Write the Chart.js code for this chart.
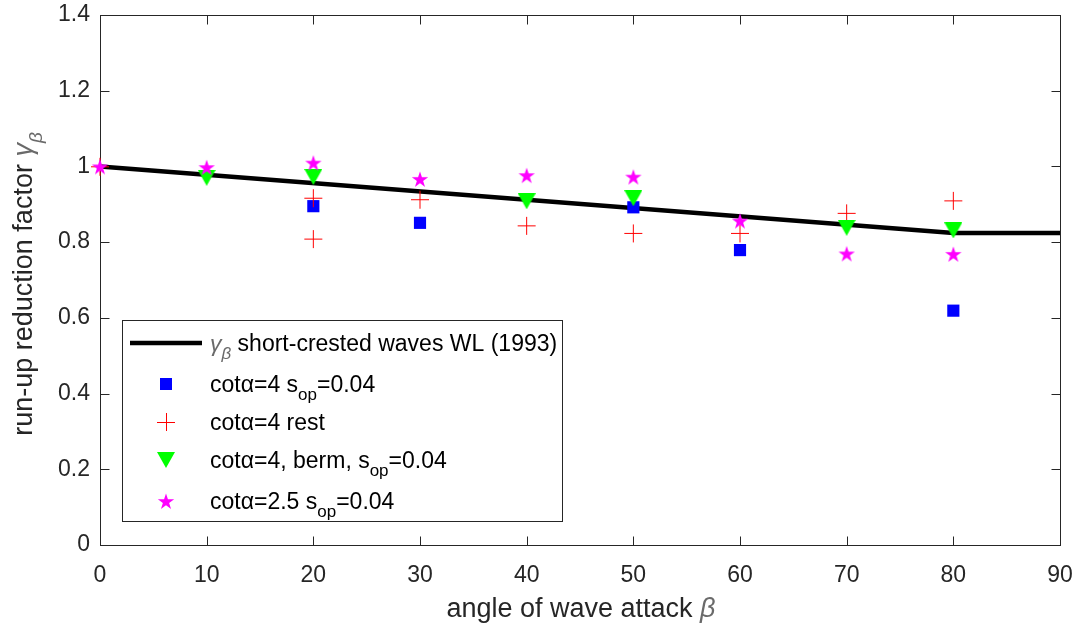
<!DOCTYPE html>
<html>
<head>
<meta charset="utf-8">
<script src="https://cdn.jsdelivr.net/npm/chart.js"></script>
<title>run-up reduction factor</title>
<style>
  body { margin: 0; background: #fff; }
</style>
</head>
<body>
<canvas id="myChart" width="1088" height="626"></canvas>
<script>
const lineX = [0, 80, 90];
const lineY = [1.0, 0.824, 0.824];

const squareX = [20, 30, 50, 60, 80];
const squareY = [0.895, 0.851, 0.892, 0.779, 0.619];

const plusX = [0, 20, 20, 30, 40, 50, 60, 70, 80];
const plusY = [0.999, 0.916, 0.808, 0.912, 0.843, 0.823, 0.823, 0.876, 0.909];

const triX = [10, 20, 40, 50, 70, 80];
const triY = [0.970, 0.972, 0.908, 0.916, 0.838, 0.831];

const starX = [0, 10, 20, 30, 40, 50, 60, 70, 80];
const starY = [1.0, 0.998, 1.010, 0.967, 0.977, 0.973, 0.857, 0.770, 0.769];

const xTicks = [0, 10, 20, 30, 40, 50, 60, 70, 80, 90];
const yTicks = [0, 0.2, 0.4, 0.6, 0.8, 1, 1.2, 1.4];

const fam = '"Liberation Sans", Arial, Helvetica, sans-serif';
const axisCol = '#262626';
const greekCol = '#6a6a6a';

function pts(xs, ys) {
  return xs.map(function(x, i) { return {x: x, y: ys[i]}; });
}

function makeStar(color, R) {
  const c = document.createElement('canvas');
  const s = Math.ceil(R * 2) + 2;
  c.width = s; c.height = s;
  const g = c.getContext('2d');
  const cx = s / 2, cy = s / 2 + 1, r = R * 0.382;
  g.beginPath();
  for (let i = 0; i < 10; i++) {
    const a = -Math.PI / 2 + i * Math.PI / 5;
    const rr = i % 2 ? r : R;
    g.lineTo(cx + rr * Math.cos(a), cy + rr * Math.sin(a));
  }
  g.closePath();
  g.fillStyle = color;
  g.fill();
  return c;
}

function makeTri(color, w, h) {
  const c = document.createElement('canvas');
  c.width = w; c.height = h;
  const g = c.getContext('2d');
  g.beginPath();
  g.moveTo(0, 0); g.lineTo(w, 0); g.lineTo(w / 2, h);
  g.closePath();
  g.fillStyle = color;
  g.fill();
  return c;
}

const starImg = makeStar('#ff00ff', 8.6);
const triImg = makeTri('#00ff00', 18, 16);

// text with subscripts / italic greek
function richWidth(ctx, parts, size, subSize) {
  let w = 0;
  parts.forEach(function(p) {
    ctx.font = (p.it ? 'italic ' : '') + (p.sub ? subSize : size) + 'px ' + fam;
    w += ctx.measureText(p.t).width;
  });
  return w;
}
function drawRich(ctx, parts, x, y, size, subSize, col) {
  parts.forEach(function(p) {
    ctx.font = (p.it ? 'italic ' : '') + (p.sub ? subSize : size) + 'px ' + fam;
    ctx.fillStyle = p.col || col;
    ctx.fillText(p.t, x, y + (p.sub ? Math.round(size * 0.36) : 0));
    x += ctx.measureText(p.t).width;
  });
}

const frame = {
  id: 'frame',
  beforeDatasetsDraw(chart) {
    const ctx = chart.ctx, a = chart.chartArea;
    const xs = chart.scales.x, ys = chart.scales.y;
    const L = Math.round(a.left) + 0.5, R = Math.round(a.right) + 0.5;
    const T = Math.round(a.top) + 0.5, B = Math.round(a.bottom) + 0.5;
    ctx.save();
    ctx.strokeStyle = axisCol;
    ctx.lineWidth = 1;
    ctx.strokeRect(L, T, R - L, B - T);
    ctx.beginPath();
    xTicks.forEach(function(v) {
      const px = Math.round(xs.getPixelForValue(v)) + 0.5;
      ctx.moveTo(px, B); ctx.lineTo(px, B - 9);
      ctx.moveTo(px, T); ctx.lineTo(px, T + 9);
    });
    yTicks.forEach(function(v) {
      const py = Math.round(ys.getPixelForValue(v)) + 0.5;
      ctx.moveTo(L, py); ctx.lineTo(L + 9, py);
      ctx.moveTo(R, py); ctx.lineTo(R - 9, py);
    });
    ctx.stroke();
    ctx.restore();
  }
};

const legendRows = [
  [{t: 'γ', it: true, col: greekCol}, {t: 'β', it: true, sub: true, col: greekCol}, {t: ' short-crested waves WL (1993)'}],
  [{t: 'cotα=4 s'}, {t: 'op', sub: true}, {t: '=0.04'}],
  [{t: 'cotα=4 rest'}],
  [{t: 'cotα=4, berm, s'}, {t: 'op', sub: true}, {t: '=0.04'}],
  [{t: 'cotα=2.5 s'}, {t: 'op', sub: true}, {t: '=0.04'}]
];
const rowY = [343, 384, 422, 460, 501];

const boxLegend = {
  id: 'boxLegend',
  afterDatasetsDraw(chart) {
    const ctx = chart.ctx;
    ctx.save();
    ctx.fillStyle = '#fff';
    ctx.fillRect(122, 320, 440, 201);
    ctx.strokeStyle = axisCol;
    ctx.lineWidth = 1;
    ctx.strokeRect(122.5, 320.5, 440, 201);

    // markers
    ctx.strokeStyle = '#000';
    ctx.lineWidth = 4.5;
    ctx.beginPath(); ctx.moveTo(130, rowY[0]); ctx.lineTo(202, rowY[0]); ctx.stroke();
    const mx = 166;
    ctx.fillStyle = '#0000ff';
    ctx.fillRect(mx - 6, rowY[1] - 6, 12, 12);
    ctx.strokeStyle = '#ff0000';
    ctx.lineWidth = 1;
    ctx.beginPath();
    ctx.moveTo(mx - 9, rowY[2] + 0.5); ctx.lineTo(mx + 9, rowY[2] + 0.5);
    ctx.moveTo(mx + 0.5, rowY[2] - 9); ctx.lineTo(mx + 0.5, rowY[2] + 9);
    ctx.stroke();
    ctx.drawImage(triImg, mx - 9, rowY[3] - 8);
    ctx.drawImage(starImg, mx - starImg.width / 2, rowY[4] - starImg.height / 2);

    ctx.textBaseline = 'alphabetic';
    ctx.textAlign = 'left';
    legendRows.forEach(function(parts, i) {
      drawRich(ctx, parts, 210, rowY[i] + 8, 23, 17, '#000');
    });
    ctx.restore();
  }
};

const titles = {
  id: 'titles',
  afterDraw(chart) {
    const ctx = chart.ctx;
    ctx.save();
    ctx.textBaseline = 'alphabetic';
    ctx.textAlign = 'left';
    const xt = [{t: 'angle of wave attack '}, {t: 'β', it: true, col: greekCol}];
    const wx = richWidth(ctx, xt, 27, 19);
    drawRich(ctx, xt, 581 - wx / 2, 617, 27, 19, axisCol);

    const yt = [{t: 'run-up reduction factor '}, {t: 'γ', it: true, col: greekCol}, {t: 'β', it: true, sub: true, col: greekCol}];
    const wy = richWidth(ctx, yt, 27, 19);
    ctx.translate(32, 284);
    ctx.rotate(-Math.PI / 2);
    drawRich(ctx, yt, -wy / 2, 0, 27, 19, axisCol);
    ctx.restore();
  }
};

new Chart(document.getElementById('myChart'), {
  type: 'scatter',
  data: {
    datasets: [
      {
        label: 'short-crested waves WL (1993)',
        data: pts(lineX, lineY),
        showLine: true,
        borderColor: '#000',
        borderWidth: 4.5,
        pointRadius: 0,
        order: 5
      },
      {
        label: 'cota=4 sop=0.04',
        data: pts(squareX, squareY),
        pointStyle: 'rect',
        pointRadius: 8.6,
        backgroundColor: '#0000ff',
        borderColor: '#0000ff',
        borderWidth: 0,
        order: 4,
        clip: false
      },
      {
        label: 'cota=4 rest',
        data: pts(plusX, plusY),
        pointStyle: 'cross',
        pointRadius: 9,
        borderColor: '#ff0000',
        borderWidth: 1,
        order: 3,
        clip: false
      },
      {
        label: 'cota=4, berm, sop=0.04',
        data: pts(triX, triY),
        pointStyle: triImg,
        order: 2,
        clip: false
      },
      {
        label: 'cota=2.5 sop=0.04',
        data: pts(starX, starY),
        pointStyle: starImg,
        order: 1,
        clip: false
      }
    ]
  },
  options: {
    responsive: false,
    animation: false,
    devicePixelRatio: 1,
    layout: { padding: { top: 15, right: 28, left: 0, bottom: 0 } },
    plugins: { legend: { display: false }, tooltip: { enabled: false } },
    scales: {
      x: {
        type: 'linear', min: 0, max: 90,
        afterFit: function(s) { s.height = 81; s.paddingLeft = 0; s.paddingRight = 0; },
        afterBuildTicks: function(s) { s.ticks = xTicks.map(function(v) { return {value: v}; }); },
        grid: { display: false, drawTicks: false },
        border: { display: false },
        ticks: { color: axisCol, font: { family: fam, size: 23 }, padding: 17, maxRotation: 0 }
      },
      y: {
        type: 'linear', min: 0, max: 1.4,
        afterFit: function(s) { s.width = 100; s.paddingTop = 0; s.paddingBottom = 0; },
        afterBuildTicks: function(s) { s.ticks = yTicks.map(function(v) { return {value: v}; }); },
        grid: { display: false, drawTicks: false },
        border: { display: false },
        ticks: {
          color: axisCol, font: { family: fam, size: 23 }, padding: 10,
          callback: function(v) { return String(+v.toFixed(1)); }
        }
      }
    }
  },
  plugins: [frame, boxLegend, titles]
});
</script>
</body>
</html>
